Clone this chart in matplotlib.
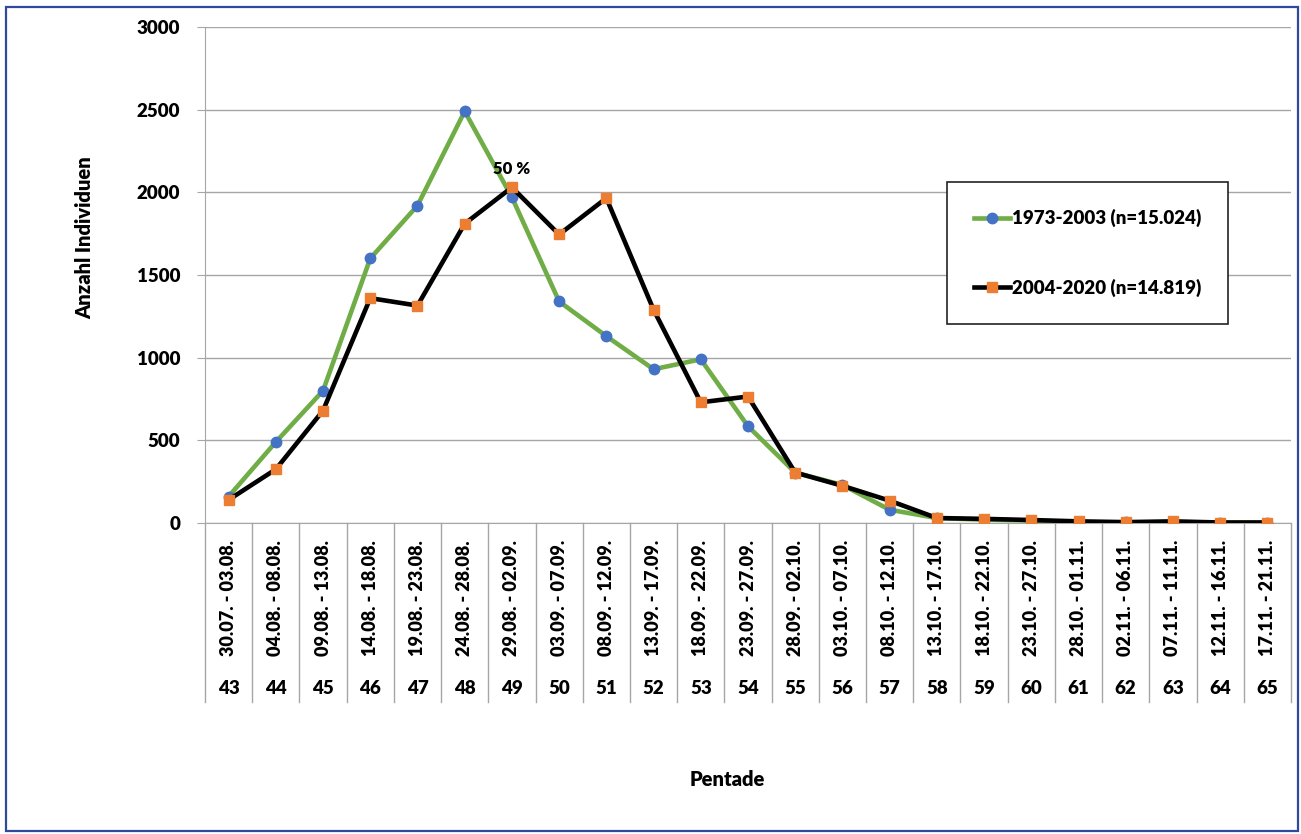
import matplotlib
matplotlib.use("Agg")
import matplotlib.pyplot as plt
from matplotlib.patches import Rectangle
import matplotlib.transforms as mtrans

plt.rcParams['font.family'] = ['Lato', 'DejaVu Sans']
plt.rcParams['font.weight'] = 'bold'

pentades = list(range(43, 66))
dates = ["30.07. - 03.08.", "04.08. - 08.08.", "09.08. - 13.08.", "14.08. - 18.08.",
         "19.08. - 23.08.", "24.08. - 28.08.", "29.08. - 02.09.", "03.09. - 07.09.",
         "08.09. - 12.09.", "13.09. - 17.09.", "18.09. - 22.09.", "23.09. - 27.09.",
         "28.09. - 02.10.", "03.10. - 07.10.", "08.10. - 12.10.", "13.10. - 17.10.",
         "18.10. - 22.10.", "23.10. - 27.10.", "28.10. - 01.11.", "02.11. - 06.11.",
         "07.11. - 11.11.", "12.11. - 16.11.", "17.11. - 21.11."]
series1_label = "1973-2003 (n=15.024)"
series1 = [160, 490, 800, 1600, 1920, 2490, 1970, 1340, 1130, 930, 990, 585,
           305, 230, 80, 30, 20, 15, 5, 5, 5, 3, 3]
series2_label = "2004-2020 (n=14.819)"
series2 = [140, 325, 680, 1360, 1315, 1810, 2030, 1745, 1965, 1290, 730, 765,
           305, 225, 135, 30, 25, 18, 10, 5, 10, 3, 3]
yticks = [0, 500, 1000, 1500, 2000, 2500, 3000]
annot_text = "50 %"
annot_index = 6

W, H = 1301, 834
fig = plt.figure(figsize=(W / 100, H / 100), dpi=100)

# outer border
fig.patches.append(Rectangle((6 / W, 1 - 831 / H), (1298 - 6) / W, (831 - 7) / H,
                             transform=fig.transFigure, fill=False,
                             edgecolor='#2F4A9B', linewidth=1.6))

L, R, T, B = 205, 1291, 27, 523
ax = fig.add_axes([L / W, 1 - B / H, (R - L) / W, (B - T) / H])

x = list(range(len(pentades)))
grid_c = '#A6A6A6'
ax.set_xlim(-0.5, len(pentades) - 0.5)
ax.set_ylim(0, 3000)
ax.set_yticks(yticks)
ax.set_yticklabels([str(v) for v in yticks], fontsize=13.5, fontweight='heavy')
ax.set_xticks([])
ax.yaxis.grid(True, color=grid_c, linewidth=1.0)
ax.set_axisbelow(True)
for s in ['top', 'right']:
    ax.spines[s].set_visible(False)
ax.spines['left'].set_color(grid_c)
ax.spines['bottom'].set_color(grid_c)
ax.tick_params(axis='y', length=6, color=grid_c, pad=12)

ax.plot(x, series1, color='#70AD47', linewidth=3.3, marker='o', markersize=7.5,
        markerfacecolor='#4472C4', markeredgecolor='#4472C4', label=series1_label,
        solid_joinstyle='round', zorder=3)
ax.plot(x, series2, color='black', linewidth=3.3, marker='s', markersize=7.5,
        markerfacecolor='#ED7D31', markeredgecolor='#ED7D31', label=series2_label,
        solid_joinstyle='round', zorder=4)

ax.annotate(annot_text, (x[annot_index], series2[annot_index]), xytext=(0, 13.5),
            textcoords='offset points', ha='center', va='center',
            fontsize=12, fontweight='heavy')

# category table below axis
trans = mtrans.blended_transform_factory(ax.transData, ax.transAxes)
axh = B - T
y_bottom = -(702 - B) / axh
y_dates = -(598 - B) / axh
y_nums = -(689 - B) / axh
for i in range(len(pentades) + 1):
    ax.plot([i - 0.5, i - 0.5], [0, y_bottom], transform=trans, color=grid_c,
            linewidth=1.0, clip_on=False)
for i, (d, p) in enumerate(zip(dates, pentades)):
    ax.text(i, y_dates, d, transform=trans, rotation=90, ha='center', va='center',
            fontsize=13, fontweight='heavy')
    ax.text(i, y_nums, str(p), transform=trans, ha='center', va='center',
            fontsize=13.5, fontweight='heavy')

fig.text(85 / W, 1 - 238 / H, "Anzahl Individuen", rotation=90, ha='center',
         va='center', fontsize=14.5, fontweight='heavy')
fig.text(727 / W, 1 - 779 / H, "Pentade", ha='center', va='center',
         fontsize=14.5, fontweight='heavy')

leg = ax.legend(loc='upper left', bbox_to_anchor=(947 / W, 1 - 182 / H),
                bbox_transform=fig.transFigure, frameon=True, fancybox=False,
                edgecolor='#222222', framealpha=1,
                prop={'weight': 'heavy', 'size': 13.5}, borderpad=1.45,
                labelspacing=2.75, handlelength=1.9, handletextpad=0.1,
                borderaxespad=0)
leg.get_frame().set_linewidth(1.2)

fig.savefig("out.png", dpi=100)
